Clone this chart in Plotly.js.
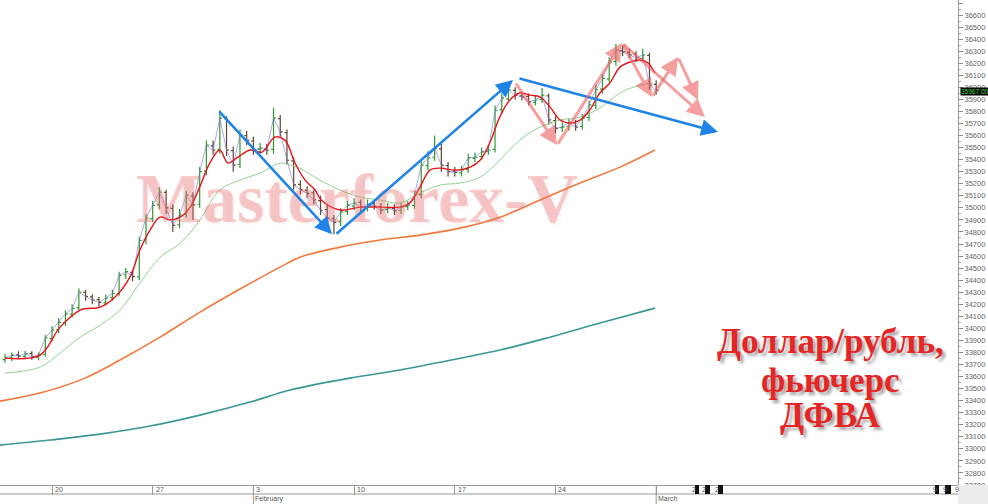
<!DOCTYPE html>
<html>
<head>
<meta charset="utf-8">
<script src="https://cdn.plot.ly/plotly-3.0.1.min.js"></script>
<style>
html,body{margin:0;padding:0;background:#fff;}
#chart{width:988px;height:504px;}
</style>
</head>
<body>
<div id="chart"></div>
<script>
// ---- DATA ----
// bars: 1 bar = 1/3 trading day; index 7 = Monday Jan 20
const opens = [33740,33755,33780,33768,33792,33762,33785,33915,33990,34048,
34118,34170,34298,34262,34238,34212,34255,34288,34445,34465,
34428,34735,34910,35025,35128,34995,34860,34945,35100,35030,
35305,35515,35485,35740,35475,35360,35600,35555,35485,35490,
35485,35740,35625,35390,35195,35145,35125,35060,34985,34910,
34885,34970,35015,35045,35000,35035,35010,34985,34995,34980,
35010,35020,35110,35350,35420,35490,35350,35305,35290,35320,
35410,35425,35470,35485,35815,35905,35975,35930,35925,35875,
35900,35930,35725,35665,35675,35705,35675,35750,35850,35985,
36070,36215,36305,36290,36275,36240,36265,36025];
const highs = [33790,33800,33810,33815,33810,33800,33945,34020,34085,34150,
34200,34330,34320,34280,34260,34280,34320,34470,34500,34470,
34760,34950,35060,35170,35150,35030,34990,35140,35130,35340,
35560,35560,35810,35760,35510,35650,35640,35590,35540,35530,
35830,35770,35650,35420,35230,35180,35150,35100,35020,34940,
35000,35060,35080,35070,35070,35060,35040,35040,35030,35040,
35060,35140,35400,35470,35600,35530,35380,35340,35350,35450,
35460,35500,35520,35850,35950,36030,36000,35960,35950,35930,
35995,35950,35760,35710,35740,35730,35780,35890,36020,36110,
36250,36360,36345,36320,36300,36320,36290,36060];
const lows = [33715,33730,33745,33745,33740,33735,33765,33890,33960,34020,
34090,34150,34230,34200,34180,34190,34230,34270,34410,34390,
34400,34700,34880,34990,34950,34800,34830,34920,34900,35000,
35270,35440,35450,35430,35300,35330,35520,35440,35450,35440,
35450,35590,35360,35150,35110,35080,35030,34940,34870,34782,
34850,34940,34980,34970,34970,34985,34950,34955,34940,34950,
34980,34990,35080,35310,35390,35300,35260,35260,35260,35290,
35380,35400,35440,35460,35780,35880,35900,35890,35850,35850,
35870,35690,35620,35630,35640,35640,35650,35720,35820,35950,
36040,36180,36260,36240,36210,36210,35980,35940];
const closes = [33753,33778,33770,33790,33765,33780,33920,33985,34050,34120,
34165,34300,34265,34235,34215,34250,34290,34440,34470,34430,
34730,34915,35020,35130,35000,34855,34940,35105,35025,35300,
35520,35480,35745,35480,35355,35605,35560,35480,35495,35480,
35745,35630,35395,35190,35150,35120,35065,34980,34915,34880,
34965,35020,35040,35005,35030,35015,34980,35000,34975,35005,
35025,35105,35355,35415,35495,35355,35300,35295,35315,35415,
35420,35465,35480,35810,35910,35980,35935,35920,35880,35895,
35935,35730,35660,35670,35710,35670,35745,35855,35980,36075,
36210,36310,36295,36270,36245,36270,36020,35975];

const redMAx = [0,5.2,8.2,11.2,14.2,16.4,18.6,20.1,21.6,23.1,24.6,26.1,27.6,29.0,30.5,32.0,33.2,34.7,36.5,38.3,40.2,41.7,43.2,44.7,46.2,47.1,49.9,52.9,55.9,58.8,60.3,61.8,63.3,64.8,67.0,69.3,70.8,72.2,73.7,75.2,76.7,78.2,79.7,81.2,82.7,84.2,85.7,87.1,88.6,90.1,91.6,93.1,94.6,95.8,96.8];
const redMA = [33753,33778,34010,34152,34177,34260,34425,34650,34815,34923,34900,34923,35006,35172,35372,35480,35372,35421,35480,35463,35587,35562,35372,35230,35148,35065,34982,35006,35006,35006,35040,35172,35313,35330,35313,35338,35397,35538,35753,35895,35953,35936,35920,35836,35729,35704,35729,35812,35953,36036,36168,36210,36227,36202,36119];

const greenMAx = [0,5.2,8.2,11.2,14.2,17.1,20.1,23.1,26.1,29.0,32.0,35.0,38.0,41.0,42.5,43.9,46.9,49.9,52.9,55.9,58.8,61.8,64.8,67.8,70.8,73.7,76.7,79.7,82.7,85.7,88.6,91.6,94.6,96.5];
const greenMA = [33629,33678,33795,33927,34027,34152,34376,34590,34707,34898,35148,35230,35289,35372,35355,35330,35230,35148,35090,35065,35040,35123,35189,35206,35255,35397,35563,35670,35729,35753,35828,35953,36019,36036];

const orangeMAx = [-0.75,5.21,11.92,17.13,23.09,29.05,35.0,40.96,43.94,49.90,55.86,61.82,67.78,73.74,79.70,85.65,91.61,96.82];
const orangeMA = [33396,33463,33587,33737,33927,34135,34326,34508,34591,34674,34733,34774,34832,34923,35065,35206,35338,35480];

const tealMAx = [-0.75,6.70,14.15,21.60,29.05,36.50,42.45,51.39,58.84,66.29,73.74,81.18,88.63,96.82];
const tealMA = [33031,33073,33122,33189,33280,33388,33488,33587,33654,33736,33820,33927,34044,34168];

const tickIdx = [7,22,37,52,67,82,97];
const tickText = ['20','27','3','10','17','24',''];
const monthIdx = [37,97];
const monthText = ['February','March'];
const lastPrice = 35967;

// analysis arrows [fromBar, fromPrice, toBar, toPrice]
const blueArrows = [[31.73,35812,48.71,34782],[49.16,34774,75.67,36061],[76.42,36077,106.21,35629]];
const redArrows = [[75.97,36044,82.23,35521],[82.23,35521,91.91,36368],[91.91,36368,96.38,35919],[96.38,35919,100.25,36251],[100.25,36251,103.23,35895],[91.91,36368,104.27,35753]];

// ---- CHART ----
const barIdx = closes.map((_, k) => k);
const traces = [
  {type:'scatter',mode:'lines',x:tealMAx,y:tealMA,line:{color:'#3b9696',width:1.6,shape:'spline'},hoverinfo:'skip'},
  {type:'scatter',mode:'lines',x:orangeMAx,y:orangeMA,line:{color:'#f2783c',width:1.6,shape:'spline'},hoverinfo:'skip'},
  {type:'scatter',mode:'lines',x:greenMAx,y:greenMA,line:{color:'#93d193',width:1,shape:'spline'},hoverinfo:'skip'},
  {type:'ohlc',x:barIdx,open:opens,high:highs,low:lows,close:closes,tickwidth:0.35,
   increasing:{line:{color:'#2f9a2f',width:1.2}},decreasing:{line:{color:'#5a4a30',width:1.2}},hoverinfo:'skip'},
  {type:'scatter',mode:'lines',x:barIdx,y:closes,opacity:0.75,line:{color:'#7b68d8',width:0.8},hoverinfo:'skip'},
  {type:'scatter',mode:'lines',x:redMAx,y:redMA,line:{color:'#e8141c',width:1.4,shape:'spline'},hoverinfo:'skip'}
];

const PH = 485, PW = 958;
const annotations = [];
const shapes = [];

// watermark
annotations.push({xref:'paper',yref:'paper',x:357/PW,y:(PH-198)/PH,xanchor:'center',yanchor:'middle',
  text:'Masterforex-V',showarrow:false,
  font:{family:'Liberation Serif, Times New Roman, serif',size:70,weight:'bold',color:'rgba(236,110,110,0.36)',shadow:'2px 2px 3px rgba(200,120,120,0.25)'}});

// arrows
blueArrows.forEach(a => annotations.push({xref:'x',yref:'y',axref:'x',ayref:'y',x:a[2],y:a[3],ax:a[0],ay:a[1],
  text:'',showarrow:true,arrowhead:2,arrowsize:1.3,arrowwidth:2.6,arrowcolor:'#1f84e6'}));
redArrows.forEach(a => annotations.push({xref:'x',yref:'y',axref:'x',ayref:'y',x:a[2],y:a[3],ax:a[0],ay:a[1],
  text:'',showarrow:true,arrowhead:2,arrowsize:1.2,arrowwidth:3,arrowcolor:'rgba(238,100,100,0.62)'}));

// red title text
const titleLines = ['Доллар/рубль,','фьючерс','ДФВА'];
const titleY = [341,380,415];
titleLines.forEach((t,k) => annotations.push({xref:'paper',yref:'paper',x:830/PW,y:(PH-titleY[k])/PH,
  xanchor:'center',yanchor:'middle',text:t,showarrow:false,
  font:{family:'Liberation Serif, Times New Roman, serif',size:35,weight:'bold',color:'#e42626',shadow:'3px 3px 3px rgba(0,0,0,0.35)'}}));

// last price tag
annotations.push({xref:'paper',yref:'y',x:1,y:lastPrice,xanchor:'left',yanchor:'middle',xshift:2,
  text:lastPrice.toFixed(2),showarrow:false,bgcolor:'#000',borderpad:0,
  font:{family:'Liberation Sans, Arial, sans-serif',size:6.5,color:'#3ddc3d'}});

// date strip labels
tickIdx.forEach((v,k) => annotations.push({xref:'x',yref:'paper',x:v,y:-4.5/PH,xanchor:'left',yanchor:'middle',xshift:1,
  text:tickText[k],showarrow:false,font:{family:'Liberation Sans, Arial, sans-serif',size:7,color:'#555'}}));
monthIdx.forEach((v,k) => {
  annotations.push({xref:'x',yref:'paper',x:v,y:-14/PH,xanchor:'left',yanchor:'middle',xshift:0,
    text:monthText[k],showarrow:false,font:{family:'Liberation Sans, Arial, sans-serif',size:7,color:'#555'}});
  shapes.push({type:'line',xref:'x',yref:'paper',x0:v,x1:v,y0:0,y1:-19/PH,line:{color:'#999',width:1}});
});
// strip bottom line
shapes.push({type:'line',xref:'paper',yref:'paper',x0:0,x1:1,y0:-9/PH,y1:-9/PH,line:{color:'#999',width:1}});
// bottom-right grey corner
shapes.push({type:'rect',xref:'paper',yref:'paper',x0:1,x1:988/PW,y0:-19/PH,y1:0,fillcolor:'#ececec',line:{width:0}});
// future-area small date boxes
const futureBoxes = [[695,699],[705,710],[718,723],[935,939],[945,951]];
futureBoxes.forEach(b => shapes.push({type:'rect',xref:'paper',yref:'paper',x0:b[0]/PW,x1:b[1]/PW,y0:-9/PH,y1:0,fillcolor:'#111',line:{width:0}}));
const futureLabels = [[690,'2'],[700,'2'],[713,'2'],[931,'9'],[941,'9'],[953,'9']];
futureLabels.forEach(f => annotations.push({xref:'paper',yref:'paper',x:f[0]/PW,y:-4.5/PH,xanchor:'left',yanchor:'middle',
  text:f[1],showarrow:false,font:{family:'Liberation Sans, Arial, sans-serif',size:7,color:'#555'}}));

const layout = {
  width:988,height:504,
  margin:{l:0,r:30,t:0,b:19,pad:0},
  paper_bgcolor:'#fff',plot_bgcolor:'#fff',
  showlegend:false,
  xaxis:{range:[-0.746,141.96],showgrid:false,zeroline:false,showline:true,linecolor:'#999',linewidth:1,
    tickmode:'array',tickvals:tickIdx,ticktext:tickText,showticklabels:false,ticks:'outside',ticklen:9,tickcolor:'#999',
    rangeslider:{visible:false},fixedrange:true},
  yaxis:{side:'right',range:[32700,36725],showgrid:false,zeroline:false,showline:true,linecolor:'#999',linewidth:1,
    tick0:32700,dtick:100,tickformat:'d',ticks:'outside',ticklen:4,tickcolor:'#888',
    minor:{dtick:50,ticks:'outside',ticklen:2,tickcolor:'#aaa'},
    tickfont:{family:'Liberation Sans, Arial, sans-serif',size:7.5,color:'#666'},fixedrange:true},
  annotations:annotations,
  shapes:shapes
};

Plotly.newPlot('chart',traces,layout,{staticPlot:true,displayModeBar:false});
</script>
</body>
</html>
